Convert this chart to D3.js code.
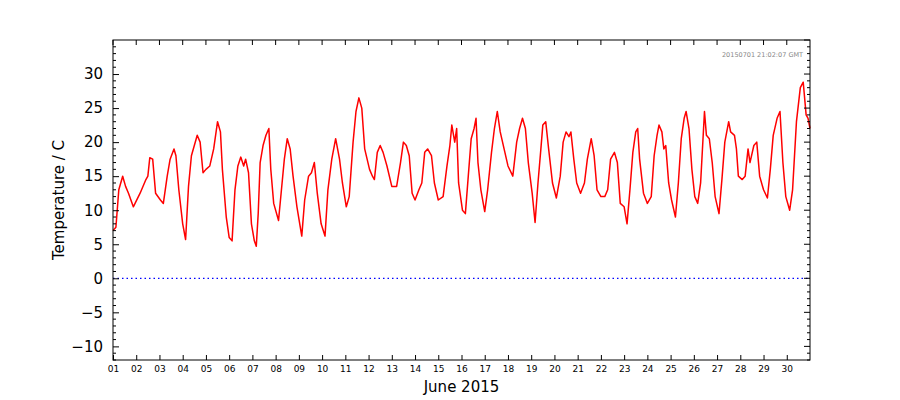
<!DOCTYPE html>
<html><head><meta charset="utf-8">
<script src="https://cdn.jsdelivr.net/npm/d3@7"></script>
<style>body{margin:0;background:#fff}svg,svg text{font-family:"DejaVu Sans",sans-serif}</style>
</head><body><svg id="c" width="900" height="400"></svg>
<script>
// hours since 2015-06-01 00:00 GMT
const hours = [0,3,6,10,13,16,21,28,34,36,38,41,44,49,52,56,59,63,65,68,72,75,78,81,84,87,90,93,96,100,104,108,111,113,117,120,123,126,129,132,135,137,140,143,146,148,150,152,155,158,161,163,166,171,174,177,180,183,186,190,195,198,202,205,208,211,215,219,222,226,230,234,237,241,244,248,251,254,257,260,265,268,270,273,276,279,283,288,293,297,300,303,306,309,312,316,319,322,325,329,332,336,341,345,348,350,353,355,357,361,364,367,370,373,375,377,380,384,387,391,394,397,400,404,408,413,417,420,423,426,429,433,436,439,442,444,447,450,454,458,462,465,468,471,473,476,479,483,487,490,494,497,500,504,508,511,514,518,521,524,528,531,534,537,540,542,544,548,552,556,559,562,564,567,569,571,574,577,581,584,587,590,592,595,598,601,604,607,611,613,616,619,622,626,629,632,636,638,642,644,646,650,653,656,658,662,665,668,672,676,679,682,686,689,692,695,699,702,706,710,713,716,718,720];
const temps = [7,7.5,13,15,13.5,12.5,10.5,12.5,14.5,15,17.7,17.5,12.5,11.5,11,15,17.5,19,18,13,8,5.7,13.5,18,19.5,21,20,15.5,16,16.5,19,23,21.5,16,9,6,5.5,13,16.5,17.8,16.5,17.5,15.5,8,5.5,4.7,9.5,17,19.5,21,22,16,11,8.5,13,17.5,20.5,19,15,10.5,6.2,11.5,15,15.5,17,12.5,8,6.2,13,17.5,20.5,17.5,14,10.5,12,20,24.5,26.5,25,19,16,15,14.5,18.5,19.5,18.5,16.5,13.5,13.5,17,20,19.5,18,12.5,11.5,13,14,18.5,19,18,14,11.5,12,16.5,19.5,22.5,20,22,14,10,9.5,15,20.5,22,23.5,17,13,9.8,13,18.5,22,24.5,21.5,19,16.5,15,20,22,23.5,22,17,12.5,8.2,14,19,22.5,23,19,14,11.8,15,20,21.5,20.8,21.5,17.5,14,12.5,14,17.5,20.5,18,13,12,12,13,17.5,18.5,17,11,10.5,8,13,18.5,21.5,22,17.5,12.5,11,12,18,21,22.5,21.5,19,19.5,14,11.5,9,14,20.5,23.5,24.5,22,16,12,11,14,24.5,21,20.5,17,12,9.5,14.5,20,23,21.5,21,19,15,14.5,15,19,17,19.5,20,15,13,11.8,16,21,23.5,24.5,17,12,10,13,23,28,28.8,24,23.5,22];
const dayLabels = d3.range(1,31).map(d=>String(d).padStart(2,"0"));
const yTicks = [-10,-5,0,5,10,15,20,25,30];

const svg = d3.select("#c");
const m = {l:113, r:810, t:40, b:360};
const t0 = Date.UTC(2015,5,1);
const x = d3.scaleUtc().domain([new Date(t0), new Date(Date.UTC(2015,6,1))]).range([m.l,m.r]);
const y = d3.scaleLinear().domain([-12,35]).range([m.b,m.t]);
const data = hours.map((h,i)=>({t:new Date(t0+h*3600e3), v:temps[i]}));

svg.append("line").attr("x1",m.l).attr("x2",m.r).attr("y1",y(0)).attr("y2",y(0))
  .attr("stroke","#0000ff").attr("stroke-width",1.2).attr("stroke-dasharray","1.5,3");
svg.append("path").datum(data).attr("fill","none").attr("stroke","red").attr("stroke-width",1.5)
  .attr("stroke-linejoin","round").attr("d", d3.line().x(d=>x(d.t)).y(d=>y(d.v)));

// y axis
const ya = svg.append("g").attr("transform",`translate(${m.l},0)`)
  .call(d3.axisLeft(y).tickValues(yTicks).tickSize(-6).tickPadding(10).tickFormat(d=>d<0?"\u2212"+(-d):d));
ya.attr("font-family","DejaVu Sans");
ya.selectAll("text").attr("font-size",15).attr("fill","#000");
ya.select(".domain").remove();
const minor = d3.range(-12,36).filter(v=>v%5!==0);
svg.append("g").selectAll("line").data(minor).join("line")
  .attr("x1",m.l).attr("x2",m.l+3).attr("y1",d=>y(d)).attr("y2",d=>y(d)).attr("stroke","#000");
svg.append("g").selectAll("line").data(d3.range(-12,36)).join("line")
  .attr("x1",m.r).attr("x2",d=>m.r-(d%5===0?6:3)).attr("y1",d=>y(d)).attr("y2",d=>y(d)).attr("stroke","#000");

// x axis
const days = dayLabels.map(s=>new Date(Date.UTC(2015,5,+s)));
const xa = svg.append("g").attr("transform",`translate(0,${m.b})`)
  .call(d3.axisBottom(x).tickValues(days).tickSize(-5).tickPadding(6).tickFormat((d,i)=>dayLabels[i]));
xa.attr("font-family","DejaVu Sans");
xa.selectAll("text").attr("font-size",9).attr("fill","#000");
xa.select(".domain").remove();
svg.append("g").selectAll("line").data(days).join("line")
  .attr("x1",d=>x(d)).attr("x2",d=>x(d)).attr("y1",m.t).attr("y2",m.t+5).attr("stroke","#000");

svg.append("rect").attr("x",m.l).attr("y",m.t).attr("width",m.r-m.l).attr("height",m.b-m.t)
  .attr("fill","none").attr("stroke","#000").attr("stroke-width",1);

svg.append("text").attr("x",(m.l+m.r)/2).attr("y",392).attr("text-anchor","middle").attr("font-size",15).text("June 2015");
svg.append("text").attr("transform",`translate(64,${(m.t+m.b)/2}) rotate(-90)`).attr("text-anchor","middle").attr("font-size",15).text("Temperature / C");
svg.append("text").attr("x",803).attr("y",57).attr("text-anchor","end").attr("font-size",6.5).attr("fill","#888").text("20150701 21:02:07 GMT");
</script></body></html>
